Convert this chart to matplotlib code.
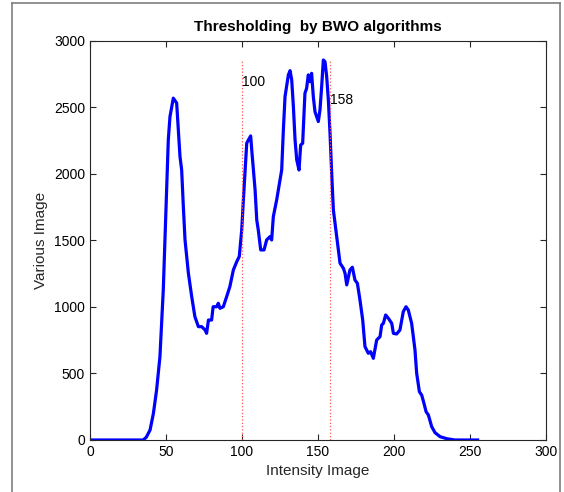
import matplotlib
matplotlib.use('Agg')
import matplotlib.pyplot as plt
from matplotlib.lines import Line2D

plt.rcParams['font.family'] = ['Liberation Sans', 'DejaVu Sans']

# histogram (intensity vs. count)
intensity = [0, 35, 37, 39.5, 41.7, 43.8, 46, 48.2, 49.3, 50.4, 51.5, 52.6, 54.8, 57, 59.2,
             60.3, 61.4, 62.5, 64.7, 66.9, 69, 71.3, 73.5, 75.7, 76.7, 77.9, 80, 81, 83.3,
             84.4, 85.5, 87.7, 89.9, 92, 94.3, 96.5, 98.2, 99.8, 100.9, 103.1, 104.2, 105.7,
             106.4, 108.6, 109.7, 110.7, 112.3, 114.5, 116.2, 118.4, 119.5, 120.6, 122.8,
             125, 126.1, 127.2, 128.3, 130.5, 131.6, 132.7, 133.8, 134.9, 136, 137.5, 138.6,
             139.9, 141.4, 142.5, 143.6, 144.7, 145.8, 146.9, 148, 150.2, 151.3, 152.4,
             153.5, 154.6, 155.7, 156.8, 157.9, 159, 160.1, 162.3, 164.5, 166.7, 167.8,
             168.9, 171, 172.6, 174.3, 175.9, 177.6, 179.4, 180.9, 183.1, 184.6, 186.4,
             188.6, 190.8, 191.9, 193, 194.5, 196.3, 198.5, 199.6, 201.7, 203.9, 206.1,
             207.9, 209.4, 211.6, 213.8, 214.9, 216.7, 218.2, 219.7, 221.1, 222.6, 224.8,
             227, 230.3, 234.6, 240, 255]
counts = [0, 0, 20, 75, 200, 376, 626, 1128, 1504, 1880, 2256, 2431, 2570, 2534, 2130,
          2030, 1754, 1504, 1256, 1078, 927, 852, 852, 827, 802, 902, 902, 1002, 1002,
          1028, 990, 1002, 1078, 1153, 1278, 1340, 1380, 1579, 1805, 2231, 2256, 2286,
          2181, 1880, 1654, 1579, 1429, 1429, 1504, 1529, 1504, 1679, 1805,
          1955, 2030, 2331, 2582, 2745, 2777, 2707, 2506, 2256, 2106, 2030, 2218,
          2231, 2607, 2644, 2745, 2694, 2757, 2582, 2469, 2394, 2482, 2657,
          2857, 2845, 2732, 2557, 2306, 2005, 1730, 1529, 1329, 1291, 1253,
          1166, 1278, 1299, 1203, 1178, 1053, 902, 702, 652, 664, 614,
          752, 777, 865, 877, 940, 915, 877, 802, 797, 827, 965,
          1002, 977, 877, 677, 502, 363, 338, 276, 213, 188, 100,
          55, 25, 10, 0, 0]

thresholds = [100, 158]
thr_top = 2850
thr_label_y = [2690, 2560]

fig = plt.figure(figsize=(5.64, 4.92), dpi=100)
ax = fig.add_axes([0.1596, 0.1057, 0.8085, 0.811])

ax.plot(intensity, counts, color='#0000ff', linewidth=2.3)
for t, ly in zip(thresholds, thr_label_y):
    ax.plot([t, t], [0, thr_top], linestyle=':', color='#ff5555', linewidth=0.9)
    ax.text(t, ly, str(t), fontsize=10, ha='left', va='center')

ax.set_xlim(0, 300)
ax.set_ylim(0, 3000)
ax.set_xticks(range(0, 301, 50))
ax.set_yticks(range(0, 3001, 500))
ax.tick_params(direction='in', top=True, right=True, labelsize=10, length=4, color='#262626')
for s in ax.spines.values():
    s.set_color('#262626')
ax.set_xlabel('Intensity Image', fontsize=11, color='#262626')
ax.set_ylabel('Various Image', fontsize=11, color='#262626')
ax.set_title('Thresholding  by BWO algorithms', fontsize=11, fontweight='bold', pad=7)

# page frame around the figure
fig.add_artist(Line2D([0.0213, 0.0213], [0, 0.994], color='#7f7f7f', linewidth=1.2))
fig.add_artist(Line2D([0.0213, 0.993], [0.994, 0.994], color='#7f7f7f', linewidth=1.2))
fig.add_artist(Line2D([0.993, 0.993], [0, 0.994], color='#7f7f7f', linewidth=1.2))

fig.savefig('out.png', dpi=100)
